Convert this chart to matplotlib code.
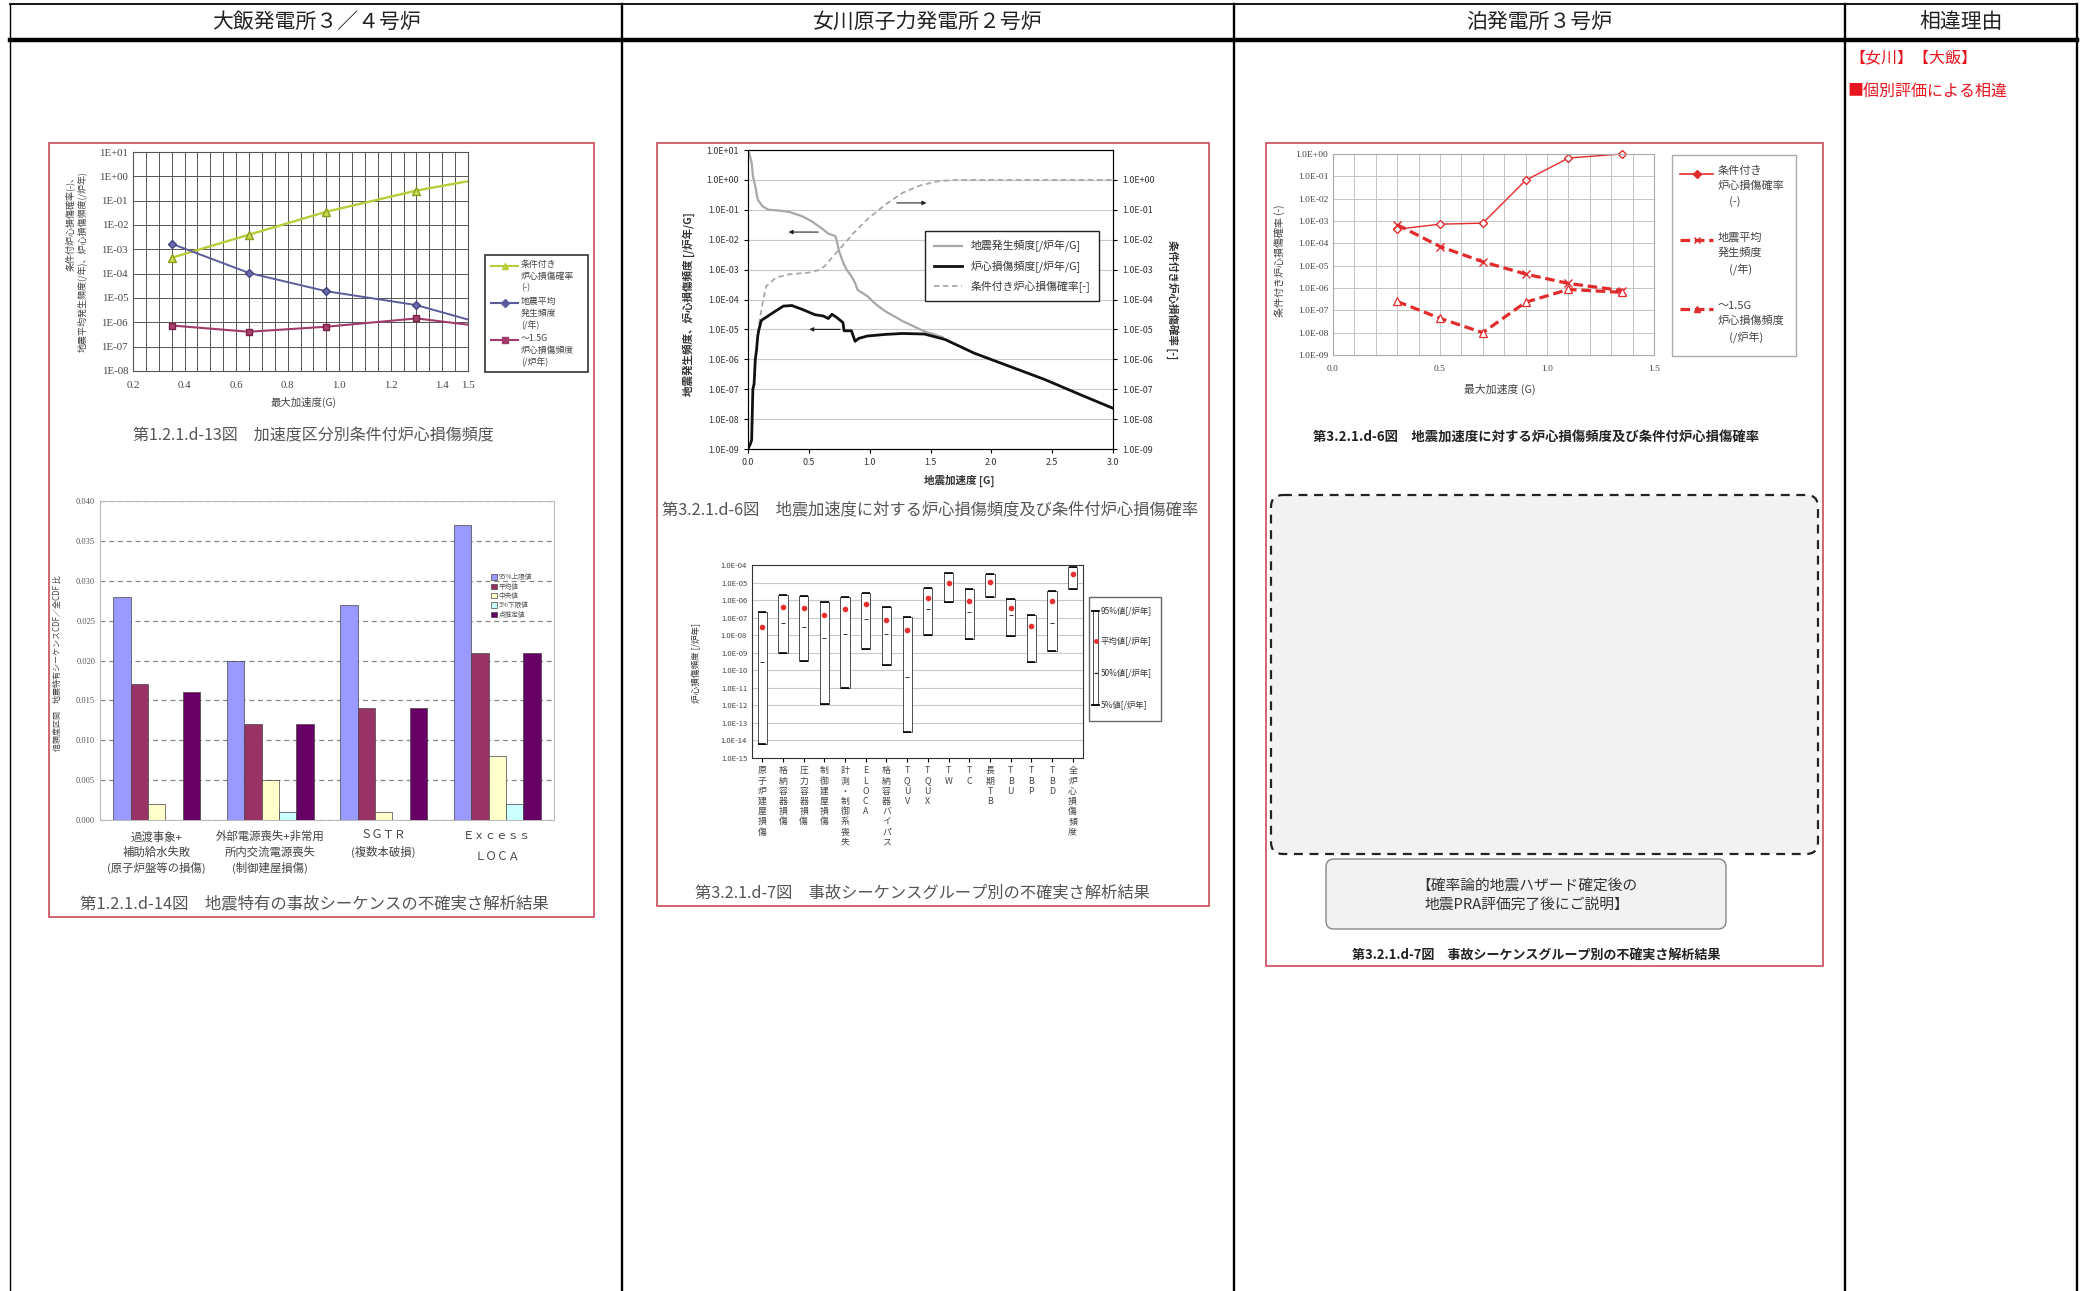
import numpy as np
import matplotlib
matplotlib.use("Agg")
import matplotlib.pyplot as plt
from matplotlib.patches import Rectangle, FancyBboxPatch
from matplotlib.ticker import FuncFormatter, MultipleLocator, NullLocator, FormatStrFormatter

plt.rcParams['font.family'] = ['Noto Sans CJK JP', 'DejaVu Sans']

W, H = 2083, 1291

# ---- table text ----
HEADERS = ["大飯発電所３／４号炉", "女川原子力発電所２号炉", "泊発電所３号炉", "相違理由"]
REASON_LINES = ["【女川】【大飯】", "■個別評価による相違"]

# ---- chart A: 大飯 加速度区分別条件付炉心損傷頻度 ----
ACCEL_A = [0.35, 0.65, 0.95, 1.30, 1.50]
CCDP_A = [4.5e-4, 4.0e-3, 3.5e-2, 2.6e-1, 6.3e-1]
FREQ_A = [1.7e-3, 1.07e-4, 1.9e-5, 5.1e-6, 1.3e-6]
CDF_A = [7.4e-7, 4.1e-7, 6.6e-7, 1.45e-6, 8.0e-7]
LEGEND_A = ["条件付き\n炉心損傷確率\n(-)", "地震平均\n発生頻度\n(/年)", "～1.5G\n炉心損傷頻度\n(/炉年)"]

# ---- chart B: 大飯 地震特有の事故シーケンスの不確実さ ----
GROUPS_B = ["過渡事象+\n補助給水失敗\n(原子炉盤等の損傷)",
            "外部電源喪失+非常用\n所内交流電源喪失\n(制御建屋損傷)",
            "ＳＧＴＲ\n(複数本破損)",
            "Ｅｘｃｅｓｓ\nＬＯＣＡ"]
SERIES_B = ["95%上限値", "平均値", "中央値", "5%下限値", "点推定値"]
UPPER_B = [0.028, 0.020, 0.027, 0.037]
MEAN_B = [0.017, 0.012, 0.014, 0.021]
MEDIAN_B = [0.002, 0.005, 0.001, 0.008]
LOWER_B = [0.0, 0.001, 0.0, 0.002]
POINT_B = [0.016, 0.012, 0.014, 0.021]
COLORS_B = ["#9999ff", "#993366", "#ffffcc", "#ccffff", "#660066"]

# ---- chart C: 女川 地震加速度に対する炉心損傷頻度 ----
QUAKE_X = [0.01, 0.03, 0.04, 0.06, 0.08, 0.12, 0.17, 0.25, 0.34, 0.45, 0.52, 0.60, 0.66,
           0.70, 0.72, 0.75, 0.78, 0.81, 0.85, 0.88, 0.90, 0.98, 1.05, 1.13, 1.27, 1.45, 1.60]
QUAKE_Y = [8.0, 3.7, 1.4, 0.6, 0.22, 0.13, 0.10, 0.095, 0.085, 0.06, 0.042, 0.025, 0.016,
           0.014, 0.013, 0.004, 0.0018, 1.0e-3, 6.0e-4, 3.6e-4, 2.1e-4, 1.3e-4, 7.0e-5,
           4.0e-5, 1.9e-5, 8.6e-6, 5.5e-6]
CDF_X = [0.00, 0.02, 0.03, 0.04, 0.05, 0.06, 0.07, 0.08, 0.09, 0.11, 0.20, 0.29, 0.36, 0.45,
         0.55, 0.62, 0.66, 0.69, 0.73, 0.78, 0.79, 0.85, 0.88, 0.91, 0.98, 1.13, 1.27, 1.45,
         1.62, 1.86, 2.15, 2.44, 2.73, 3.00]
CDF_Y = [1.0e-9, 1.5e-9, 2.0e-9, 1.0e-7, 1.5e-7, 1.0e-6, 2.0e-6, 6.0e-6, 1.0e-5, 2.0e-5,
         3.5e-5, 6.0e-5, 6.3e-5, 4.6e-5, 3.1e-5, 2.8e-5, 2.3e-5, 3.2e-5, 2.5e-5, 1.7e-5,
         9.0e-6, 9.0e-6, 4.0e-6, 5.0e-6, 6.0e-6, 6.8e-6, 7.3e-6, 7.0e-6, 4.6e-6, 1.6e-6,
         5.8e-7, 2.1e-7, 6.6e-8, 2.3e-8]
CCDP_X = [0.09, 0.125, 0.15, 0.23, 0.34, 0.49, 0.58, 0.63, 0.69, 0.75, 0.87, 0.98, 1.13,
          1.27, 1.42, 1.57, 1.71, 3.00]
CCDP_Y = [1.5e-5, 1.0e-4, 2.8e-4, 5.4e-4, 7.0e-4, 7.8e-4, 9.6e-4, 1.3e-3, 2.5e-3, 4.7e-3,
          1.7e-2, 4.8e-2, 0.15, 0.37, 0.66, 0.92, 1.0, 1.0]
LEGEND_C = ["地震発生頻度[/炉年/G]", "炉心損傷頻度[/炉年/G]", "条件付き炉心損傷確率[-]"]

# ---- chart D: 女川 事故シーケンスグループ別の不確実さ ----
SEQ_D = ["原子炉建屋損傷", "格納容器損傷", "圧力容器損傷", "制御建屋損傷", "計測・制御系喪失",
         "ELOCA", "格納容器バイパス", "TQUV", "TQUX", "TW", "TC", "長期TB", "TBU", "TBP",
         "TBD", "全炉心損傷頻度"]
P95_D = [2.0e-7, 1.9e-6, 1.7e-6, 8.1e-7, 1.5e-6, 2.4e-6, 3.9e-7, 1.1e-7, 5.1e-6, 3.4e-5,
         4.3e-6, 2.9e-5, 1.2e-6, 1.4e-7, 3.5e-6, 7.4e-5]
MEAN_D = [3.1e-8, 4.3e-7, 3.4e-7, 1.5e-7, 3.1e-7, 5.7e-7, 7.4e-8, 1.9e-8, 1.3e-6, 9.0e-6,
          9.3e-7, 1.1e-5, 3.7e-7, 3.2e-8, 9.3e-7, 2.9e-5]
P50_D = [3.0e-10, 5.2e-8, 2.8e-8, 6.8e-9, 1.1e-8, 8.5e-8, 1.2e-8, 4.2e-11, 3.2e-7, 1.0e-5,
         2.0e-7, 1.2e-5, 1.5e-7, 3.0e-8, 5.2e-8, 2.9e-5]
P05_D = [6.7e-15, 1.0e-9, 3.2e-10, 1.2e-12, 9.5e-12, 1.7e-9, 1.9e-10, 3.0e-14, 1.0e-8,
         8.1e-7, 6.2e-9, 1.5e-6, 9.5e-9, 2.9e-10, 1.2e-9, 4.3e-6]
LEGEND_D = ["95%値[/炉年]", "平均値[/炉年]", "50%値[/炉年]", "5%値[/炉年]"]

# ---- chart E: 泊 地震加速度に対する炉心損傷頻度 ----
ACCEL_E = [0.3, 0.5, 0.7, 0.9, 1.1, 1.35]
CCDP_E = [4.3e-4, 7.2e-4, 8.0e-4, 6.6e-2, 0.66, 1.0]
FREQ_E = [6.8e-4, 7.2e-5, 1.5e-5, 4.2e-6, 1.6e-6, 7.7e-7]
CDF_E = [2.5e-7, 4.4e-8, 1.0e-8, 2.3e-7, 8.6e-7, 6.4e-7]
LEGEND_E = ["条件付き\n炉心損傷確率\n　(-)", "地震平均\n発生頻度\n　(/年)", "～1.5G\n炉心損傷頻度\n　(/炉年)"]


def px_axes(x0, y0, x1, y1):
    return fig.add_axes([x0 / W, 1 - y1 / H, (x1 - x0) / W, (y1 - y0) / H])


def exp_fmt(prefix):
    return FuncFormatter(lambda v, _: f"{prefix}E{int(round(np.log10(v))):+03d}")


fig = plt.figure(figsize=(W / 100, H / 100), dpi=100)
bg = fig.add_axes([0, 0, 1, 1])
bg.set_xlim(0, W); bg.set_ylim(H, 0); bg.axis('off')

# table grid
COLS = [10, 622, 1234, 1845, 2077]
for i, x in enumerate(COLS):
    bg.plot([x, x], [4, H], color='black', lw=1.0 if i == 0 else 1.7)
bg.plot([10, 2077], [4, 4], color='black', lw=1.3)
bg.plot([10, 2077], [40, 40], color='black', lw=3.2)
for i, h in enumerate(HEADERS):
    bg.text((COLS[i] + COLS[i + 1]) / 2, 22, h, ha='center', va='center', fontsize=15, color='#222')
bg.text(1849, 58, REASON_LINES[0], color='#e8141e', fontsize=11.5, va='center')
bg.text(1847, 92, REASON_LINES[1], color='#e8141e', fontsize=11.5, va='center')

# red frames around the pasted figures
for (x0, y0, x1, y1) in [(49, 143, 594, 917), (657, 143, 1209, 906), (1266, 143, 1823, 966)]:
    bg.add_patch(Rectangle((x0, y0), x1 - x0, y1 - y0, fill=False, ec='#cc4a5a', lw=1.2))

# ================= chart A =================
axA = px_axes(133, 152, 468, 371)
axA.set_yscale('log'); axA.set_ylim(1e-8, 1e1); axA.set_xlim(0.2, 1.5)
axA.set_xticks([0.2, 0.4, 0.6, 0.8, 1.0, 1.2, 1.4, 1.5])
axA.set_xticklabels(['0.2', '0.4', '0.6', '0.8', '1.0', '1.2', '1.4', '1.5'])
axA.xaxis.set_minor_locator(MultipleLocator(0.05))
axA.set_yticks(10.0 ** np.arange(-8, 2))
axA.yaxis.set_minor_locator(NullLocator())
axA.yaxis.set_major_formatter(exp_fmt("1"))
axA.grid(True, which='both', axis='x', color='#555', lw=0.7)
axA.grid(True, which='major', axis='y', color='#555', lw=0.7)
axA.tick_params(which='both', length=0, labelsize=7.8, labelcolor='#444', labelfontfamily='Liberation Serif')
axA.tick_params(axis='x', pad=7)
for s in axA.spines.values():
    s.set_color('#555')
mk = [0, 1, 2, 3]
axA.plot(ACCEL_A, CCDP_A, color='#b9cc3a', lw=1.7, marker='^', ms=5.5, mfc='#c9d94e', mec='#8c9c1c', markevery=mk, clip_on=False)
axA.plot(ACCEL_A, FREQ_A, color='#5c5c9c', lw=1.4, marker='D', ms=4, mfc='#6a6ab0', mec='#44447a', markevery=mk, clip_on=False)
axA.plot(ACCEL_A, CDF_A, color='#a23a6a', lw=1.5, marker='s', ms=5, mfc='#a8406c', mec='#7a2048', markevery=mk, clip_on=False)

bg.add_patch(Rectangle((485, 255), 103, 117, fc='white', ec='#333', lw=1.2))
for (col, mkr, lab, yy) in zip(['#b9cc3a', '#5c5c9c', '#a23a6a'], ['^', 'D', 's'], LEGEND_A, [266, 303, 340]):
    bg.plot([491, 518], [yy, yy], color=col, lw=1.5)
    bg.plot([505], [yy], marker=mkr, color=col, ms=4)
    bg.text(521, yy - 6, lab, fontsize=6.4, va='top', ha='left', color='#444', linespacing=1.38)

bg.text(76, 262, "条件付炉心損傷確率(-)、\n地震平均発生頻度(/年)、炉心損傷頻度(/炉年)", rotation=90,
        ha='center', va='center', fontsize=6.5, color='#444', multialignment='right', linespacing=1.3)
bg.text(303, 402, "最大加速度(G)", ha='center', va='center', fontsize=7.5, color='#444')
bg.text(313, 436, "第1.2.1.d-13図　加速度区分別条件付炉心損傷頻度", ha='center', va='center', fontsize=11.5, color='#555')

# ================= chart B =================
axB = px_axes(100, 501, 554, 820)
xB = np.arange(len(GROUPS_B))
wB = 0.153
for k, (lab, vals, col) in enumerate(zip(SERIES_B, [UPPER_B, MEAN_B, MEDIAN_B, LOWER_B, POINT_B], COLORS_B)):
    axB.bar(xB + (k - 2) * wB, vals, width=wB, color=col, edgecolor='#444', lw=0.5, label=lab, zorder=3)
axB.set_xlim(-0.5, 3.5); axB.set_ylim(0, 0.04)
axB.set_yticks(np.arange(0, 0.0401, 0.005))
axB.yaxis.set_major_formatter(FormatStrFormatter('%.3f'))
axB.grid(axis='y', ls=(0, (4, 3)), color='#888', lw=0.9)
axB.set_axisbelow(True)
axB.set_xticks(xB)
axB.set_xticklabels(GROUPS_B, fontsize=8.2, color='#444', linespacing=1.45)
axB.get_xticklabels()[3].set_linespacing(2.4)
axB.tick_params(axis='x', length=0, pad=8)
axB.tick_params(axis='y', length=0, labelsize=6, labelcolor='#555', labelfontfamily='Liberation Serif')
for s in axB.spines.values():
    s.set_color('#bbb')
axB.legend(loc='upper left', bbox_to_anchor=(488 / W, 1 - 570 / H), bbox_transform=fig.transFigure,
           fontsize=4.8, frameon=False, handlelength=0.8, handleheight=0.8, labelspacing=0.2,
           borderpad=0, handletextpad=0.3, labelcolor='#555')
bg.text(57, 663, "信頼度区間　地震特有シーケンスCDF／全CDF 比", rotation=90, ha='center', va='center',
        fontsize=5.8, color='#444')
bg.text(314, 904, "第1.2.1.d-14図　地震特有の事故シーケンスの不確実さ解析結果", ha='center', va='center',
        fontsize=11.8, color='#555')

# ================= chart C =================
axC = px_axes(748, 150, 1113, 449)
axC.set_yscale('log'); axC.set_ylim(1e-9, 1e1); axC.set_xlim(0, 3)
axC.set_yticks(10.0 ** np.arange(-9, 2))
axC.yaxis.set_minor_locator(NullLocator())
axC.yaxis.set_major_formatter(exp_fmt("1.0"))
axC.set_xticks(np.arange(0, 3.01, 0.5))
axC.xaxis.set_major_formatter(FormatStrFormatter('%.1f'))
axC.grid(axis='y', color='#c8c8c8', lw=0.8)
axC.tick_params(labelsize=6.4, length=3, labelcolor='#333')
lq, = axC.plot(QUAKE_X, QUAKE_Y, color='#a8a8a8', lw=1.6)
lc, = axC.plot(CCDP_X, CCDP_Y, color='#a8a8a8', lw=1.3, ls=(0, (3, 2)))
ld, = axC.plot(CDF_X, CDF_Y, color='#111', lw=2.0)
for s in axC.spines.values():
    s.set_color('#444')
for (x0, x1, yv) in [(0.60, 0.31, 0.018), (1.20, 1.49, 0.17), (0.78, 0.48, 1.0e-5)]:
    axC.annotate('', xy=(x1, yv), xytext=(x0, yv),
                 arrowprops=dict(arrowstyle='-|>', color='#222', lw=0.8, mutation_scale=6))
axC2 = axC.twinx()
axC2.set_yscale('log'); axC2.set_ylim(1e-9, 1e1)
axC2.set_yticks(10.0 ** np.arange(-9, 1))
axC2.yaxis.set_minor_locator(NullLocator())
axC2.yaxis.set_major_formatter(exp_fmt("1.0"))
axC2.tick_params(labelsize=6.4, length=3, labelcolor='#333')
axC2.legend([lq, ld, lc], LEGEND_C, loc='upper left', bbox_to_anchor=(920 / W, 1 - 226 / H),
            bbox_transform=fig.transFigure, fontsize=7.8, fancybox=False, edgecolor='#222',
            framealpha=1, handlelength=2.6, labelspacing=0.75, borderpad=0.8, labelcolor='#333')
bg.text(689, 304, "地震発生頻度、炉心損傷頻度 [/炉年/G]", rotation=90, ha='center', va='center',
        fontsize=7.6, weight='bold', color='#333')
bg.text(1172, 300, "条件付き炉心損傷確率 [-]", rotation=-90, ha='center', va='center',
        fontsize=7.6, weight='bold', color='#333')
bg.text(959, 481, "地震加速度 [G]", ha='center', va='center', fontsize=7.6, weight='bold', color='#333')
bg.text(930, 510, "第3.2.1.d-6図　地震加速度に対する炉心損傷頻度及び条件付炉心損傷確率", ha='center',
        va='center', fontsize=11.7, color='#555')

# ================= chart D =================
axD = px_axes(752, 565, 1083, 758)
xD = np.arange(len(SEQ_D)) + 0.5
p95 = np.array(P95_D); p05 = np.array(P05_D)
axD.bar(xD, p95 - p05, bottom=p05, width=0.45, color='white', edgecolor='#333', lw=0.6, zorder=3)
axD.hlines(p95, xD - 0.2, xD + 0.2, color='black', lw=1.2, zorder=4)
axD.hlines(p05, xD - 0.2, xD + 0.2, color='black', lw=1.2, zorder=4)
axD.plot(xD, P50_D, ls='none', marker='_', color='#333', ms=2.5, mew=0.7, zorder=5)
axD.plot(xD, MEAN_D, ls='none', marker='o', color='#e83030', ms=3, zorder=6)
axD.set_yscale('log'); axD.set_ylim(1e-15, 1e-4); axD.set_xlim(0, 16)
axD.set_yticks(10.0 ** np.arange(-15, -3))
axD.yaxis.set_minor_locator(NullLocator())
axD.yaxis.set_major_formatter(exp_fmt("1.0"))
axD.grid(axis='y', color='#c8c8c8', lw=0.8)
axD.set_xticks(xD)
axD.set_xticklabels(["\n".join(s) for s in SEQ_D], fontsize=6.4, color='#444', linespacing=1.17, va='top')
axD.tick_params(axis='x', length=3, pad=3)
axD.tick_params(axis='y', length=0, labelsize=5.5, labelcolor='#444')
for s in axD.spines.values():
    s.set_color('#333')
bg.add_patch(Rectangle((1089, 597), 72, 124, fc='white', ec='#666', lw=1.0))
bg.add_patch(Rectangle((1093, 611), 5, 94, fc='white', ec='#333', lw=0.6))
bg.plot([1092, 1099], [611, 611], color='black', lw=1.3)
bg.plot([1092, 1099], [705, 705], color='black', lw=1.3)
bg.plot([1095.5], [641], marker='o', color='#e83030', ms=2.5)
bg.plot([1095.5], [673], marker='_', color='#333', ms=3)
for lab, yy in zip(LEGEND_D, [611, 641, 673, 705]):
    bg.text(1101, yy, lab, fontsize=6, va='center', ha='left', color='#333')
bg.text(696, 663, "炉心損傷頻度 [/炉年]", rotation=90, ha='center', va='center', fontsize=6.2, color='#333')
bg.text(922, 893, "第3.2.1.d-7図　事故シーケンスグループ別の不確実さ解析結果", ha='center', va='center',
        fontsize=11.7, color='#555')

# ================= chart E =================
RED = '#e32b2b'
axE = px_axes(1333, 154, 1654, 355)
axE.set_yscale('log'); axE.set_ylim(1e-9, 1e0); axE.set_xlim(0, 1.5)
axE.set_xticks([0, 0.5, 1.0, 1.5])
axE.xaxis.set_major_formatter(FormatStrFormatter('%.1f'))
axE.xaxis.set_minor_locator(MultipleLocator(0.1))
axE.set_yticks(10.0 ** np.arange(-9, 1))
axE.yaxis.set_minor_locator(NullLocator())
axE.yaxis.set_major_formatter(exp_fmt("1.0"))
axE.grid(True, which='both', axis='x', color='#c4c4c4', lw=0.7)
axE.grid(True, which='major', axis='y', color='#c4c4c4', lw=0.7)
axE.tick_params(which='both', length=0, labelsize=6.8, labelcolor='#444', labelfontfamily='Liberation Serif')
axE.tick_params(axis='x', pad=7)
for s in axE.spines.values():
    s.set_color('#aaa')
axE.plot(ACCEL_E, CCDP_E, color=RED, lw=1.0, marker='D', ms=4, mfc='white', mec=RED, clip_on=False)
axE.plot(ACCEL_E, FREQ_E, color=RED, lw=2.3, ls=(0, (3, 1.5)), marker='x', ms=6, mew=1.0)
axE.plot(ACCEL_E, CDF_E, color=RED, lw=2.3, ls=(0, (3, 1.5)), marker='^', ms=6, mfc='white', mec=RED, mew=0.9)

bg.add_patch(Rectangle((1672, 155), 124, 201, fc='white', ec='#aaa', lw=1.0))
for (ls, lw, mkr, lab, yy) in zip(['-', (0, (3, 1.5)), (0, (3, 1.5))], [1.2, 2.3, 2.3], ['D', 'x', '^'],
                                   LEGEND_E, [174, 240, 309]):
    bg.plot([1680, 1713], [yy, yy], color=RED, lw=lw, ls=ls)
    bg.plot([1697], [yy], marker=mkr, color=RED, ms=4)
    bg.text(1718, yy - 8, lab, fontsize=8, va='top', ha='left', color='#444', linespacing=1.55)
bg.text(1280, 261, "条件付き炉心損傷確率 (-)", rotation=90, ha='center', va='center', fontsize=7.2, color='#444')
bg.text(1500, 389, "最大加速度 (G)", ha='center', va='center', fontsize=7.8, color='#444')
bg.text(1536, 438, "第3.2.1.d-6図　地震加速度に対する炉心損傷頻度及び条件付炉心損傷確率", ha='center',
        va='center', fontsize=9.6, weight='bold', color='#222')

# ================= placeholder F =================
bg.add_patch(FancyBboxPatch((1271, 495), 547, 359, boxstyle="round,pad=0,rounding_size=12",
                            fc='#f2f2f2', ec='#222', lw=1.6, ls=(0, (4, 3))))
bg.add_patch(FancyBboxPatch((1326, 859), 400, 70, boxstyle="round,pad=0,rounding_size=8",
                            fc='#f2f2f2', ec='#888', lw=1.0))
bg.text(1527, 895, "【確率論的地震ハザード確定後の\n地震PRA評価完了後にご説明】", ha='center', va='center',
        fontsize=10.6, color='#333', linespacing=1.5)
bg.text(1536, 956, "第3.2.1.d-7図　事故シーケンスグループ別の不確実さ解析結果", ha='center', va='center',
        fontsize=9.4, weight='bold', color='#222')

fig.savefig("out.png", dpi=100)
